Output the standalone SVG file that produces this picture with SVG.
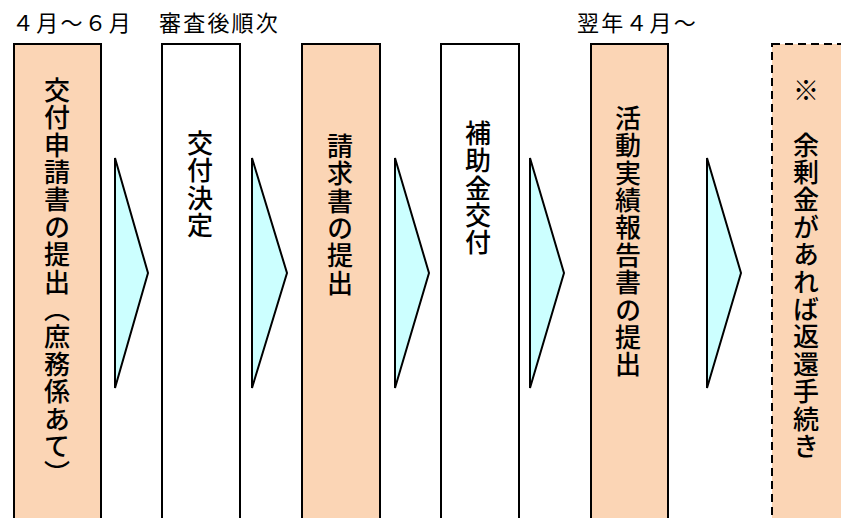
<svg xmlns="http://www.w3.org/2000/svg" width="841" height="518" viewBox="0 0 841 518">
<style>
.peach{fill:#FBD5B5;stroke:#000;stroke-width:2}
.white{fill:#fff;stroke:#000;stroke-width:2}
.dash{fill:#FBD5B5;stroke:#000;stroke-width:2;stroke-dasharray:8,5}
.arr{fill:#CCFFFF;stroke:#000;stroke-width:2;stroke-linejoin:miter}
.v{font-family:"Noto Sans CJK JP","Noto Sans CJK SC",sans-serif;font-size:26px;font-weight:500;writing-mode:vertical-rl;fill:#000;letter-spacing:1.4px}
.h{font-family:"Noto Sans CJK JP","Noto Sans CJK SC",sans-serif;font-size:22px;fill:#000;letter-spacing:2.2px}
</style>
<rect width="841" height="518" fill="#fff"/>
<g id="labels">
<text class="h" x="12" y="31">４月～６月</text>
<text class="h" x="159" y="31">審査後順次</text>
<text class="h" x="577" y="31">翌年４月～</text>
</g>
<g id="node1"><rect class="peach" x="14" y="44" width="87" height="490"/><text class="v" x="57" y="77">交付申請書の提出（庶務係あて）</text></g>
<g id="node2"><rect class="white" x="162" y="44" width="78" height="490"/><text class="v" x="200" y="130">交付決定</text></g>
<g id="node3"><rect class="peach" x="302" y="44" width="78" height="490"/><text class="v" x="340" y="133">請求書の提出</text></g>
<g id="node4"><rect class="white" x="441" y="44" width="78" height="490"/><text class="v" x="478" y="120">補助金交付</text></g>
<g id="node5"><rect class="peach" x="591" y="44" width="77" height="490"/><text class="v" x="628" y="105">活動実績報告書の提出</text></g>
<g id="node6"><rect class="dash" x="772" y="44" width="90" height="490"/><text class="v" x="806" y="77">※　余剰金があれば返還手続き</text></g>
<g id="connectors">
<polygon class="arr" points="115,158 148,273 115,388"/>
<polygon class="arr" points="252,158 287,273 252,388"/>
<polygon class="arr" points="395,158 429,273 395,388"/>
<polygon class="arr" points="530,158 564,273 530,388"/>
<polygon class="arr" points="707,158 741,273 707,388"/>
</g>
</svg>
